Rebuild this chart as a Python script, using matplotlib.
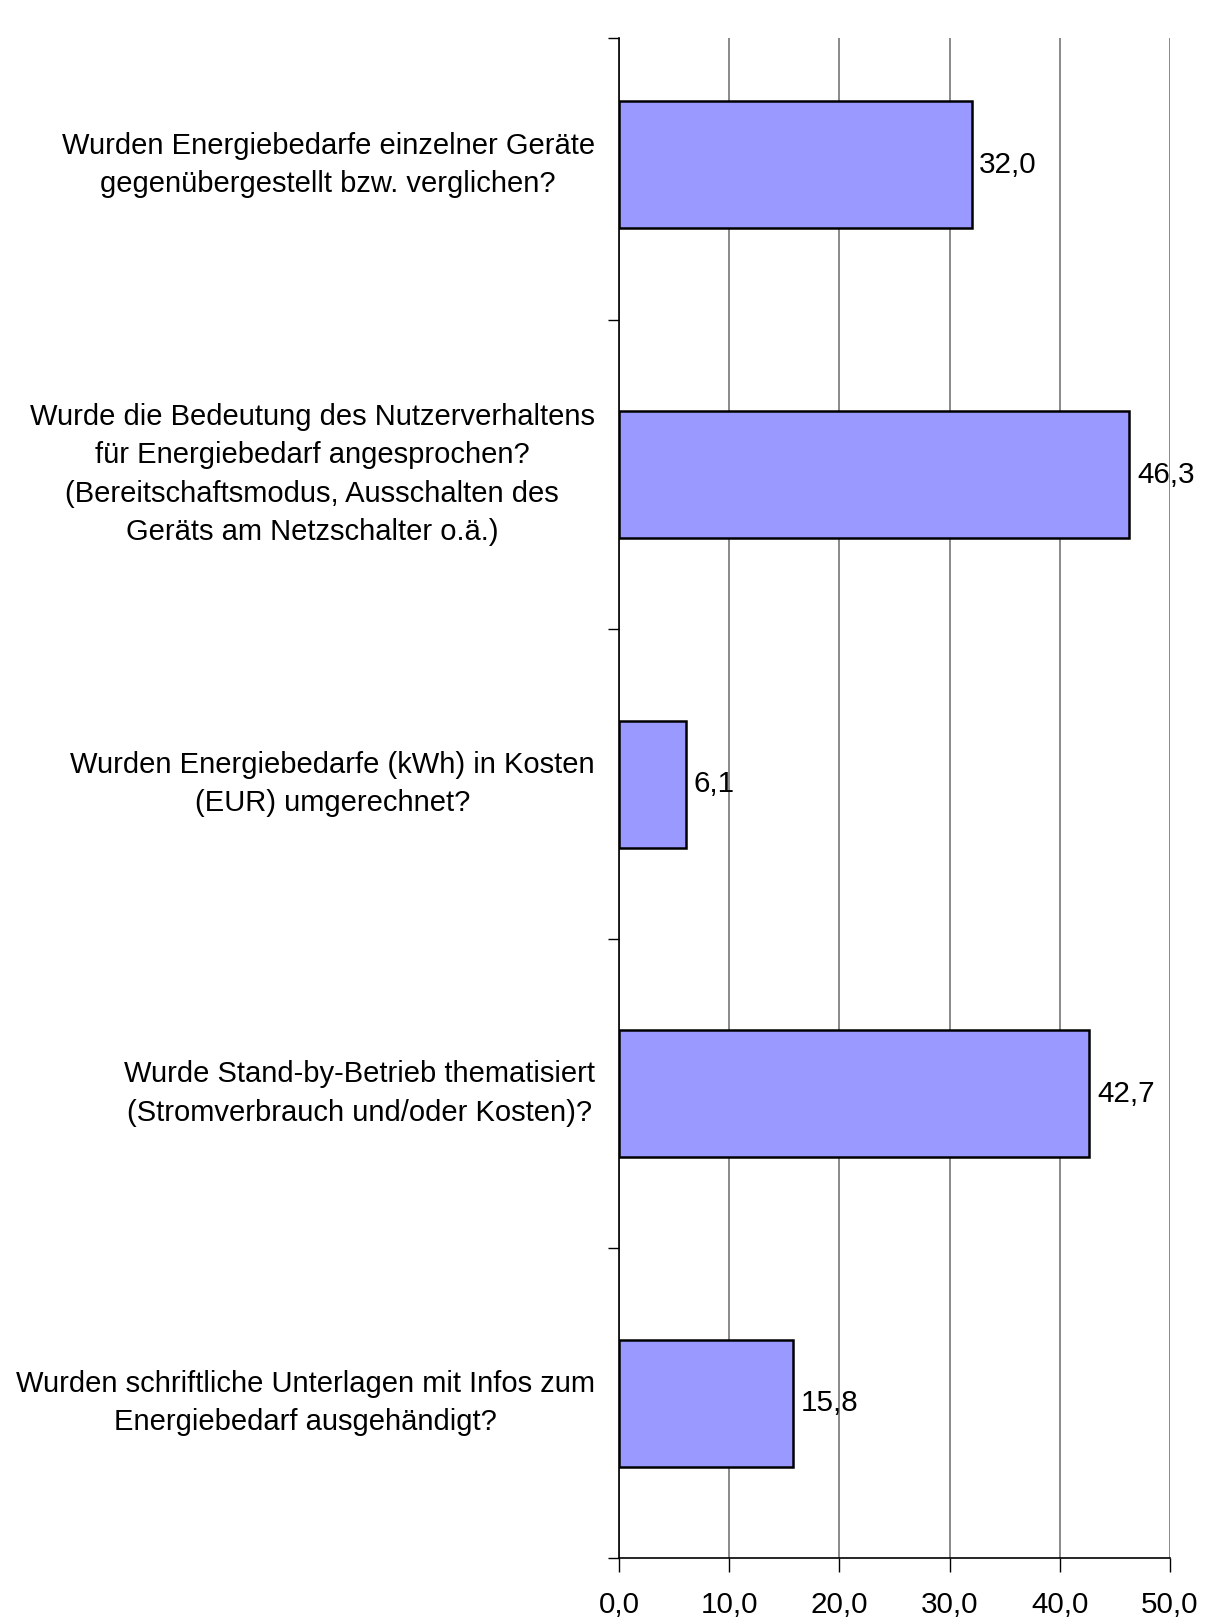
import numpy as np
import matplotlib.pyplot as plt

plt.rcParams['font.family'] = ['Liberation Sans', 'DejaVu Sans']

questions = [
    "Wurden Energiebedarfe einzelner Geräte\ngegenübergestellt bzw. verglichen?",
    "Wurde die Bedeutung des Nutzerverhaltens\nfür Energiebedarf angesprochen?\n(Bereitschaftsmodus, Ausschalten des\nGeräts am Netzschalter o.ä.)",
    "Wurden Energiebedarfe (kWh) in Kosten\n(EUR) umgerechnet?",
    "Wurde Stand-by-Betrieb thematisiert\n(Stromverbrauch und/oder Kosten)?",
    "Wurden schriftliche Unterlagen mit Infos zum\nEnergiebedarf ausgehändigt?",
]
values = [32.0, 46.3, 6.1, 42.7, 15.8]
xticks = [0, 10, 20, 30, 40, 50]

fig = plt.figure(figsize=(12.07, 16.18), dpi=100)
ax = fig.add_axes([0.5128, 0.0371, 0.4565, 0.9394])

pos = np.arange(len(values))
ax.barh(pos, values, height=0.41, color='#9999ff', edgecolor='black',
        linewidth=1.8, zorder=3)

for p, v in zip(pos, values):
    ax.text(v + 0.7, p, f"{v:.1f}".replace('.', ','), va='center', ha='left',
            fontsize=21.3, zorder=4)

for p, q in zip(pos, questions):
    ax.text(-2.2, p, q, ha='right', va='center', multialignment='center',
            fontsize=21, linespacing=1.47)

ax.set_xlim(0, 50)
ax.set_ylim(4.5, -0.41)
ax.set_xticks(xticks)
ax.set_xticklabels([f"{t:.1f}".replace('.', ',') for t in xticks], fontsize=21.3)
ax.set_yticks([-0.41, 0.5, 1.5, 2.5, 3.5, 4.5])
ax.set_yticklabels([])
ax.tick_params(axis='x', direction='out', length=10, width=1, pad=14)
ax.tick_params(axis='y', direction='out', length=8, width=1)
ax.xaxis.grid(True, color='#808080', linewidth=1.3, zorder=0)
ax.set_axisbelow(True)

for s in ['top', 'right']:
    ax.spines[s].set_visible(False)
ax.spines['left'].set_linewidth(1.2)
ax.spines['bottom'].set_linewidth(1.2)

fig.savefig('out.png', dpi=100)
